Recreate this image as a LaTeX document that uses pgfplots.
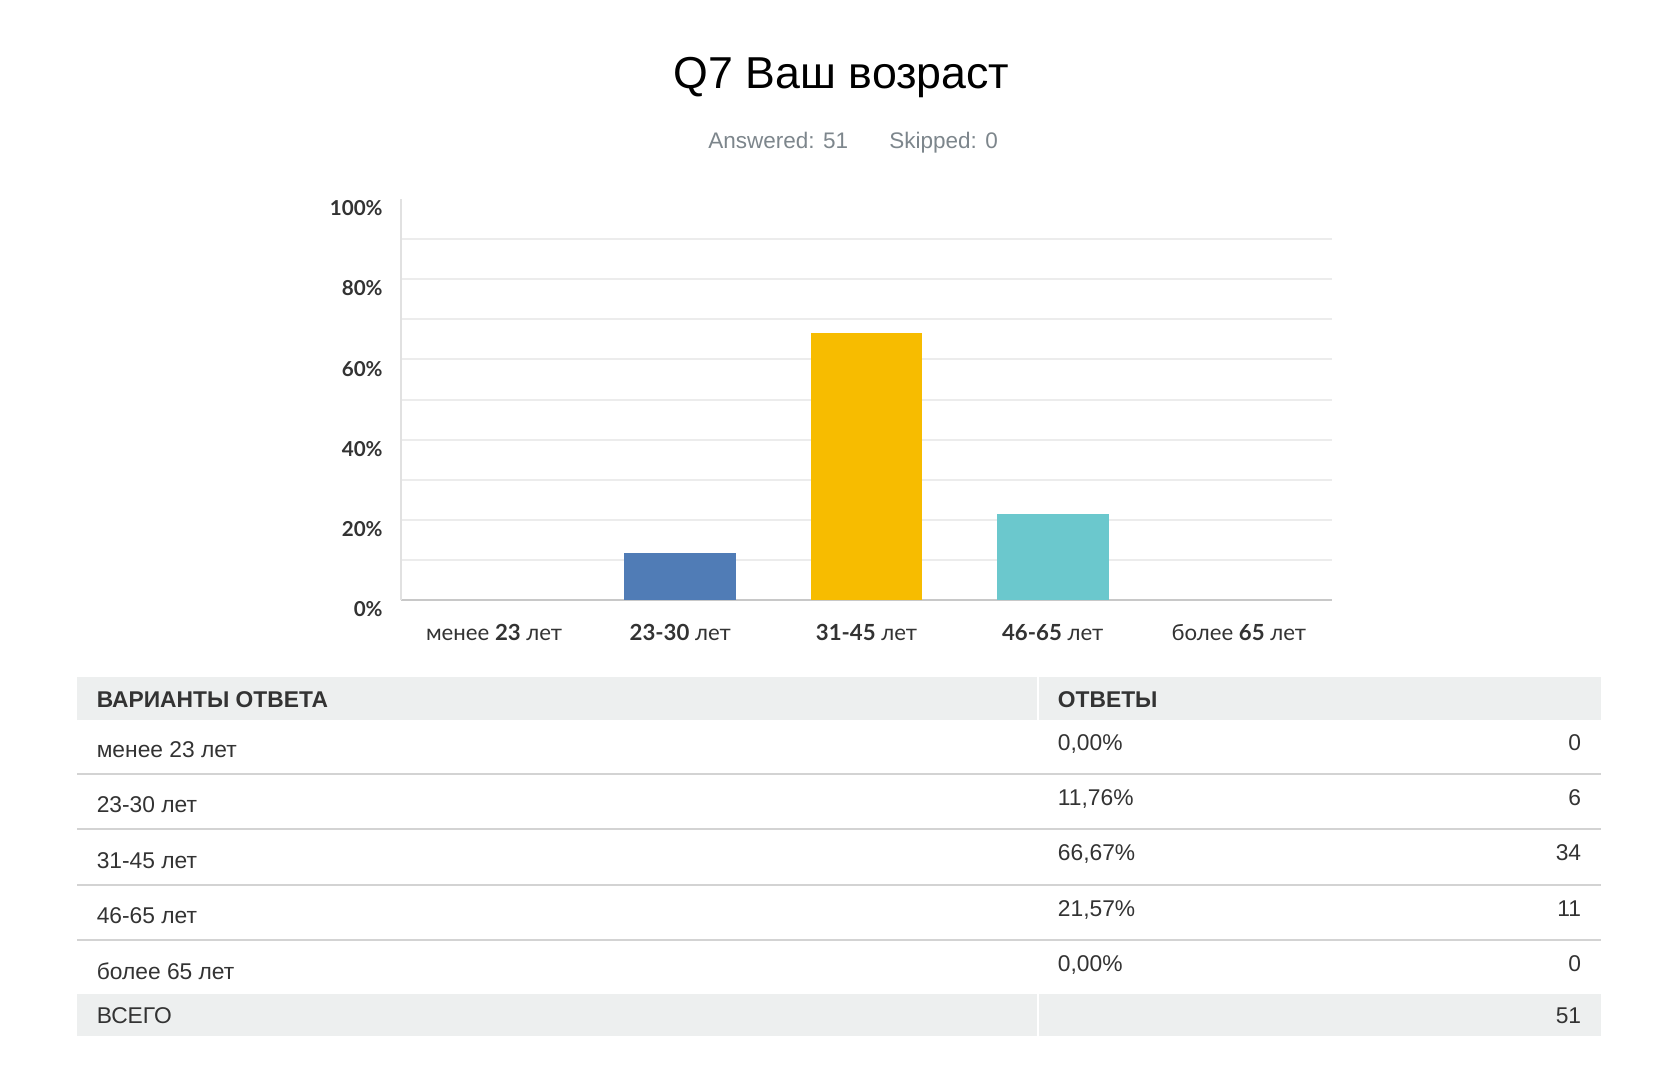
\documentclass[border=0pt]{standalone}
\usepackage{fontspec}
\setmainfont{Liberation Sans}
\newfontfamily\lato{Lato}
\usepackage{pgfplots}
\pgfplotsset{compat=1.18}

\definecolor{barblue}{HTML}{507CB6}
\definecolor{baryellow}{HTML}{F7BC00}
\definecolor{barteal}{HTML}{6BC8CD}
\definecolor{gridgray}{HTML}{ECECEC}
\definecolor{axisgray}{HTML}{C8C8C8}
\definecolor{headbg}{HTML}{EDEFEF}
\definecolor{rulegray}{HTML}{D3D3D3}
\definecolor{txt}{HTML}{333333}
\definecolor{subgray}{HTML}{7D868C}

\begin{document}
\begin{tikzpicture}
% page frame and table, in pixel units (y downward)
\begin{scope}[x=0.5pt,y=-0.5pt]
\fill[white] (0,0) rectangle (1680,1082);
\node[anchor=base,inner sep=0,font=\fontsize{22.35}{26}\selectfont] at (841.6,88) {Q7 Ваш возраст};
\node[anchor=base west,inner sep=0,text=subgray,font=\fontsize{11.25}{13}\selectfont] at (708,148) {Answered: 51};
\node[anchor=base west,inner sep=0,text=subgray,font=\fontsize{11.25}{13}\selectfont] at (889,148) {Skipped: 0};

\fill[headbg] (77,677) rectangle (1037,720);
\fill[headbg] (1039,677) rectangle (1601,720);
\fill[headbg] (77,994) rectangle (1037,1036);
\fill[headbg] (1039,994) rectangle (1601,1036);
\foreach \y in {773.5,829,884.5,939.6}
  \draw[rulegray,line width=1pt] (77,\y) -- (1601,\y);

\begin{scope}[every node/.style={inner sep=0,text=txt,font=\fontsize{11.4}{13}\selectfont}]
\node[anchor=base west] at (96.4,707) {\bfseries ВАРИАНТЫ ОТВЕТА};
\node[anchor=base west] at (1057.5,707) {\bfseries ОТВЕТЫ};
% answer rows
\node[anchor=base west] at (96.4,757.5) {менее 23 лет};
\node[anchor=base west] at (1057.5,750) {0,00\%};
\node[anchor=base east] at (1581.5,750) {0};
\node[anchor=base west] at (96.4,812.9) {23-30 лет};
\node[anchor=base west] at (1057.5,805.4) {11,76\%};
\node[anchor=base east] at (1581.5,805.4) {6};
\node[anchor=base west] at (96.4,868.3) {31-45 лет};
\node[anchor=base west] at (1057.5,860.8) {66,67\%};
\node[anchor=base east] at (1581.5,860.8) {34};
\node[anchor=base west] at (96.4,923.7) {46-65 лет};
\node[anchor=base west] at (1057.5,916.2) {21,57\%};
\node[anchor=base east] at (1581.5,916.2) {11};
\node[anchor=base west] at (96.4,979.1) {более 65 лет};
\node[anchor=base west] at (1057.5,971.6) {0,00\%};
\node[anchor=base east] at (1581.5,971.6) {0};
\node[anchor=base west] at (96.4,1023) {ВСЕГО};
\node[anchor=base east] at (1581.5,1023) {51};
\end{scope}
\end{scope}

\begin{axis}[
  at={(200.5pt,-300pt)}, anchor=south west,
  scale only axis, width=465.5pt, height=200.5pt,
  xmin=-0.5, xmax=4.5, ymin=0, ymax=100,
  axis x line*=bottom, axis y line*=left,
  x axis line style={-,draw=axisgray,line width=1.25pt},
  y axis line style={-,draw=gridgray!70!axisgray,line width=1pt},
  xtick={0,...,4},
  xticklabels={{менее \textbf{23} лет},{\textbf{23-30} лет},{\textbf{31-45} лет},{\textbf{46-65} лет},{более \textbf{65} лет}},
  ytick={0,20,...,100},
  yticklabels={0\%,20\%,40\%,60\%,80\%,100\%},
  minor ytick={10,20,...,90},
  yminorgrids=true, ymajorgrids=false,
  minor grid style={draw=gridgray,line width=1pt},
  major tick length=0pt, minor tick length=0pt,
  tick style={draw=none},
  x tick label style={anchor=base,yshift=-20pt,inner sep=0pt,
    font=\lato\fontsize{11.1}{13}\selectfont,text=txt},
  y tick label style={anchor=base east,yshift=-8.3pt,xshift=-9pt,inner sep=0pt,
    font=\lato\bfseries\fontsize{10.3}{12}\selectfont,text=txt},
  clip=false,
]
\addplot[ybar,bar width=0.6,bar shift=0pt,draw=none,fill=none] coordinates {(0,0) (4,0)};
\addplot[ybar,bar width=0.6,bar shift=0pt,draw=none,fill=barblue] coordinates {(1,11.76)};
\addplot[ybar,bar width=0.6,bar shift=0pt,draw=none,fill=baryellow] coordinates {(2,66.67)};
\addplot[ybar,bar width=0.6,bar shift=0pt,draw=none,fill=barteal] coordinates {(3,21.57)};
\end{axis}
\end{tikzpicture}
\end{document}
